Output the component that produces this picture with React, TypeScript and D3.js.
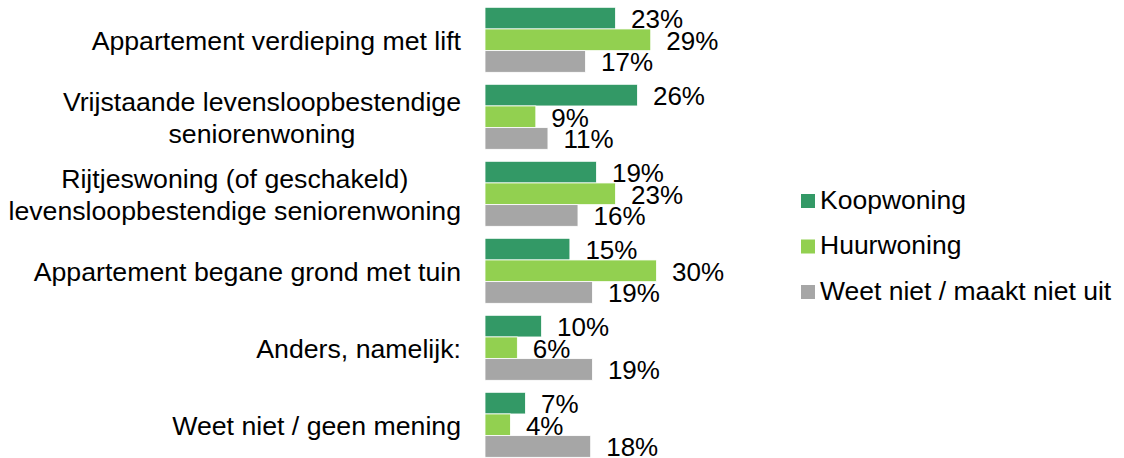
import React, { useEffect, useRef } from "react";
import * as d3 from "d3";

const categories: string[][] = [
  ["Appartement verdieping met lift"],
  ["Vrijstaande levensloopbestendige", "seniorenwoning"],
  ["Rijtjeswoning (of geschakeld)", "levensloopbestendige seniorenwoning"],
  ["Appartement begane grond met tuin"],
  ["Anders, namelijk:"],
  ["Weet niet / geen mening"],
];

const seriesNames = ["Koopwoning", "Huurwoning", "Weet niet / maakt niet uit"];
const seriesColors = ["#339966", "#92D050", "#A6A6A6"];

const koopwoning = [22.6, 26.4, 19.3, 14.7, 9.8, 7.0];
const huurwoning = [28.7, 8.8, 22.6, 29.7, 5.6, 4.4];
const weetNiet = [17.4, 10.9, 16.1, 18.6, 18.6, 18.3];

const seriesValues = [koopwoning, huurwoning, weetNiet];

const W = 1124;
const H = 458;
const FONT = "'Liberation Sans', Arial, sans-serif";
const FS_LABEL = 26;
const FS_CAT = 26.7;
const FS_LEGEND = 26.5;

export default function App() {
  const ref = useRef<SVGSVGElement>(null);

  useEffect(() => {
    const svg = d3.select(ref.current);
    svg.selectAll("*").remove();

    const keys = categories.map((c) => c.join(" "));
    const y = d3
      .scaleBand<string>()
      .domain(keys)
      .range([1.3, 463.3])
      .paddingInner(12 / 77)
      .paddingOuter(6 / 77);
    const yInner = d3
      .scaleBand<string>()
      .domain(seriesNames)
      .range([0, y.bandwidth()])
      .padding(0);
    const x = d3.scaleLinear().domain([0, 100]).range([485, 485 + 577.5]);

    const g = svg.append("g");

    // bars + labels
    keys.forEach((k, ci) => {
      const gy = y(k)!;
      seriesNames.forEach((s, si) => {
        const v = seriesValues[si][ci];
        const by = gy + yInner(s)!;
        g.append("rect")
          .attr("x", x(0))
          .attr("y", by)
          .attr("width", x(v) - x(0))
          .attr("height", yInner.bandwidth())
          .attr("fill", seriesColors[si])
          .attr("stroke", "#ffffff")
          .attr("stroke-width", 0.8);
        g.append("text")
          .attr("x", x(v) + 15.5)
          .attr("y", by + yInner.bandwidth() / 2)
          .attr("dy", "0.38em")
          .attr("font-family", FONT)
          .attr("font-size", FS_LABEL)
          .attr("fill", "#000")
          .text(d3.format(".0f")(v) + "%");
      });
    });

    // category labels
    const rightEdge = 461;
    const lineGap = 31.6;
    categories.forEach((lines, ci) => {
      const cy = y(keys[ci])! + y.bandwidth() / 2;
      const texts = lines.map((line, li) =>
        g
          .append("text")
          .attr("y", cy + (li - (lines.length - 1) / 2) * lineGap)
          .attr("dy", "0.38em")
          .attr("font-family", FONT)
          .attr("font-size", FS_CAT)
          .attr("fill", "#000")
          .attr("text-anchor", "middle")
          .text(line)
      );
      const widths = texts.map((t) => (t.node() as SVGTextElement).getComputedTextLength());
      const maxW = d3.max(widths) || 0;
      texts.forEach((t) => t.attr("x", rightEdge - maxW / 2));
    });

    // legend
    const legendY = d3.scalePoint<string>().domain(seriesNames).range([201, 292]);
    seriesNames.forEach((s, si) => {
      const cy = legendY(s)!;
      g.append("rect")
        .attr("x", 801)
        .attr("y", cy - 7)
        .attr("width", 14)
        .attr("height", 14)
        .attr("fill", seriesColors[si]);
      g.append("text")
        .attr("x", 820)
        .attr("y", cy + 7.5)
        .attr("font-family", FONT)
        .attr("font-size", FS_LEGEND)
        .attr("fill", "#000")
        .text(s);
    });
  }, []);

  return (
    <svg
      ref={ref}
      width={W}
      height={H}
      style={{ position: "absolute", left: 0, top: 0, background: "#fff" }}
    />
  );
}
